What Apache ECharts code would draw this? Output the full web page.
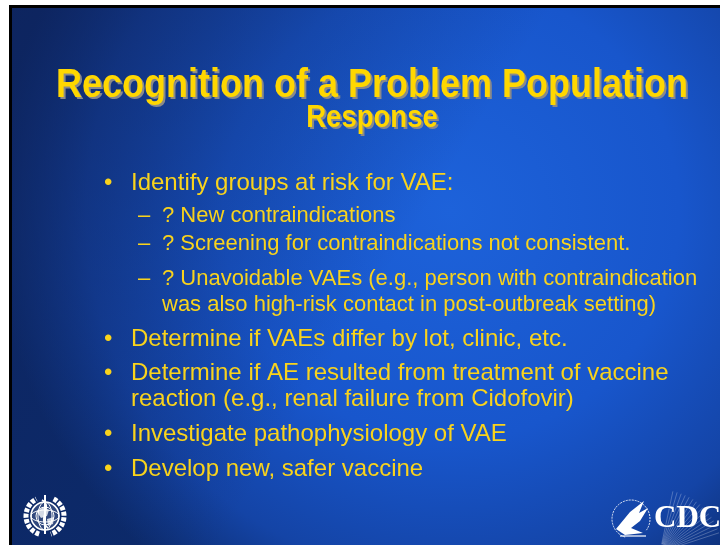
<!DOCTYPE html>
<html>
<head>
<meta charset="utf-8">
<script src="https://cdn.jsdelivr.net/npm/echarts@6/dist/echarts.min.js"></script>
<style>
  html, body { margin: 0; padding: 0; background: #fff; }
  #slide { width: 720px; height: 545px; }
</style>
</head>
<body>
<div id="slide"></div>
<script>
// slide text
var titleText = 'Recognition of a Problem Population';
var subtitleText = 'Response';
var lineTexts = [
  'Identify groups at risk for VAE:',
  '? New contraindications',
  '? Screening for contraindications not consistent.',
  '? Unavoidable VAEs (e.g., person with contraindication',
  'was also high-risk contact in post-outbreak setting)',
  'Determine if VAEs differ by lot, clinic, etc.',
  'Determine if AE resulted from treatment of vaccine',
  'reaction (e.g., renal failure from Cidofovir)',
  'Investigate pathophysiology of VAE',
  'Develop new, safer vaccine'
];
var lineMarkers = ['•', '–', '–', '–', '', '•', '•', '', '•', '•'];
var lineLevels = [0, 1, 1, 1, 1, 0, 0, 0, 0, 0];
var lineY = [183, 216, 244, 279, 305, 339, 373, 399, 434, 469];

var chart = echarts.init(document.getElementById('slide'));

var YELLOW = '#ffd700';
var BODY = '#f9d31c';
var els = [];

// frame + background
els.push({ type: 'rect', shape: { x: 9, y: 5, width: 711, height: 540 }, style: { fill: '#000' } });
els.push({
  type: 'rect', shape: { x: 12, y: 8, width: 708, height: 537 },
  style: {
    fill: { type: 'radial', x: 0.62, y: 0.38, r: 0.85,
      colorStops: [{ offset: 0, color: '#1d62da' }, { offset: 0.5, color: '#1856cc' }, { offset: 0.8, color: '#1444a6' }, { offset: 1, color: '#0c2b6c' }] }
  }
});
els.push({
  type: 'rect', shape: { x: 12, y: 8, width: 708, height: 537 },
  style: {
    fill: { type: 'linear', x: 0, y: 0, x2: 0.55, y2: 0.45,
      colorStops: [{ offset: 0, color: 'rgba(14,34,90,0.7)' }, { offset: 1, color: 'rgba(14,34,90,0)' }] }
  }
});

// title with drop shadow
function titleEl(text, y, size, sx, color, dx) {
  return {
    type: 'text', x: 372 + dx, y: y + dx, scaleX: sx,
    style: { text: text, x: 0, y: 0, fill: color, font: 'bold ' + size + 'px "Liberation Sans", Arial, sans-serif',
      textAlign: 'center', textVerticalAlign: 'top' }
  };
}
els.push(titleEl(titleText, 66, 40, 0.9, '#8a8a8a', 2));
els.push(titleEl(titleText, 66, 40, 0.9, YELLOW, 0));
els.push(titleEl(subtitleText, 102, 32, 0.86, '#8a8a8a', 2));
els.push(titleEl(subtitleText, 102, 32, 0.86, YELLOW, 0));

// bullets
lineTexts.forEach(function (t, i) {
  var sub = lineLevels[i] === 1;
  var size = sub ? 22 : 24;
  var tx = sub ? 162 : 131;
  var font = size + 'px "Liberation Sans", Arial, sans-serif';
  var shadow = { fill: BODY, font: font, textVerticalAlign: 'middle',
    shadowColor: 'rgba(0,0,40,0.55)', shadowOffsetX: 1, shadowOffsetY: 1, shadowBlur: 1 };
  if (lineMarkers[i]) {
    els.push({ type: 'text', x: sub ? 138 : 104, y: lineY[i],
      style: Object.assign({ text: lineMarkers[i] }, shadow) });
  }
  els.push({ type: 'text', x: tx, y: lineY[i], style: Object.assign({ text: t }, shadow) });
});

// WHO emblem (simplified)
var who = [];
who.push({ type: 'circle', shape: { cx: 0, cy: 0, r: 14 }, style: { fill: 'rgba(255,255,255,0.15)', stroke: '#fff', lineWidth: 1.6 } });
who.push({ type: 'ellipse', shape: { cx: 0, cy: 0, rx: 7, ry: 14 }, style: { fill: null, stroke: '#fff', lineWidth: 1 } });
who.push({ type: 'ellipse', shape: { cx: 0, cy: 0, rx: 14, ry: 6 }, style: { fill: null, stroke: '#fff', lineWidth: 1 } });
who.push({ type: 'circle', shape: { cx: 0, cy: 0, r: 9 }, style: { fill: null, stroke: '#fff', lineWidth: 1 } });
who.push({ type: 'polygon', shape: { points: [[-8, -4], [-2, -9], [4, -6], [2, 0], [-4, 2]] }, style: { fill: 'rgba(255,255,255,0.8)' } });
who.push({ type: 'polygon', shape: { points: [[2, 3], [9, 1], [8, 8], [3, 10]] }, style: { fill: 'rgba(255,255,255,0.8)' } });
who.push({ type: 'line', shape: { x1: 0, y1: -21, x2: 0, y2: 18 }, style: { stroke: '#fff', lineWidth: 2 } });
who.push({ type: 'bezierCurve', shape: { x1: -3, y1: -16, x2: 3, y2: 12, cpx1: 9, cpy1: -9, cpx2: -9, cpy2: 2 }, style: { stroke: '#fff', lineWidth: 1.6, fill: null } });
// laurel wreath as dashed thick arcs
who.push({ type: 'arc', shape: { cx: 0, cy: 0, r: 19, startAngle: Math.PI * 0.6, endAngle: Math.PI * 1.35 },
  style: { stroke: '#fff', lineWidth: 5, fill: null, lineDash: [4, 1.5] } });
who.push({ type: 'arc', shape: { cx: 0, cy: 0, r: 19, startAngle: -Math.PI * 0.35, endAngle: Math.PI * 0.4 },
  style: { stroke: '#fff', lineWidth: 5, fill: null, lineDash: [4, 1.5] } });
els.push({ type: 'group', x: 45, y: 516, children: who });

// CDC logo (simplified)
var rays = [];
for (var k = 0; k < 16; k++) {
  var ang = (-78 + k * 4) * Math.PI / 180;
  rays.push({ type: 'line', shape: { x1: 8 * Math.cos(ang), y1: 8 * Math.sin(ang), x2: 62 * Math.cos(ang), y2: 62 * Math.sin(ang) },
    style: { stroke: 'rgba(255,255,255,0.25)', lineWidth: 1 } });
}
els.push({ type: 'group', x: 660, y: 552, children: rays, silent: true });
els.push({ type: 'arc', shape: { cx: 631, cy: 519, r: 19, startAngle: Math.PI * 0.6, endAngle: Math.PI * 2.2 },
  style: { stroke: 'rgba(255,255,255,0.85)', lineWidth: 1, fill: null, lineDash: [2, 1] } });
els.push({ type: 'polygon', shape: { points: [[616, 529], [630, 512], [644, 501], [639, 513], [648, 508], [640, 521], [631, 528], [643, 533], [625, 535]] },
  style: { fill: '#fff' } });
els.push({ type: 'line', shape: { x1: 620, y1: 536, x2: 646, y2: 536 }, style: { stroke: '#fff', lineWidth: 1.2 } });
els.push({
  type: 'text', x: 654, y: 519,
  style: { text: 'CDC', fill: '#fff', font: 'bold 31px "Liberation Serif", "DejaVu Serif", serif',
    textAlign: 'left', textVerticalAlign: 'middle' }
});

chart.setOption({ animation: false, graphic: { elements: els } });
</script>
</body>
</html>
